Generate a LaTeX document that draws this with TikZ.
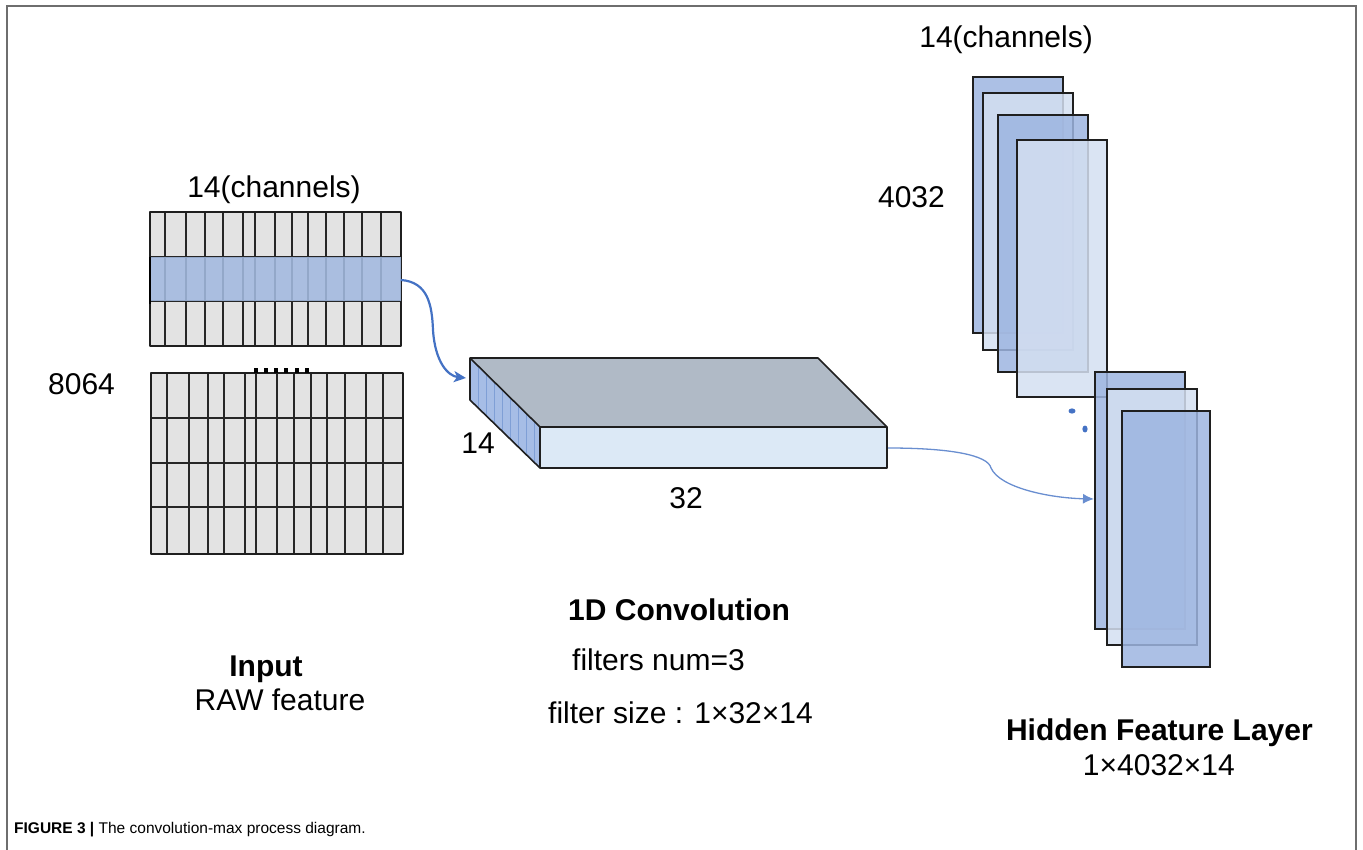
\documentclass[tikz,border=0pt]{standalone}
\usepackage{fontspec}
\setmainfont{Liberation Sans}
\usetikzlibrary{arrows.meta}
\definecolor{gridfill}{HTML}{E3E3E3}
\definecolor{band}{HTML}{A3BAE0}
\definecolor{arrowblue}{HTML}{4472C4}
\definecolor{topgray}{HTML}{B0BAC6}
\definecolor{frontblue}{HTML}{DCE9F6}
\definecolor{sideblue}{HTML}{A6BDE6}
\definecolor{stripeblue}{HTML}{7F9FD6}
\definecolor{midblue}{HTML}{9DB5E0}
\definecolor{lightblue}{HTML}{D4DFF1}
\definecolor{framegray}{HTML}{6E6E6E}
\begin{document}
\begin{tikzpicture}[x=1pt,y=-1pt,
  lbl/.style={font=\fontsize{30}{36}\selectfont, inner sep=0pt},
  boldlbl/.style={font=\fontsize{30}{36}\selectfont\bfseries, inner sep=0pt},
  gline/.style={draw=black!85, line width=1.6pt},
  edge/.style={draw=black!88, line width=1.6pt, line join=round},
  midsheet/.style={fill=midblue, fill opacity=0.85, draw=black!88, line width=1.6pt},
  lightsheet/.style={fill=lightblue, fill opacity=0.85, draw=black!88, line width=1.6pt},
  conn/.style={draw=arrowblue, line width=2.2pt, -{Stealth[length=12pt,width=11pt,inset=3pt]}},
  thinconn/.style={draw=arrowblue!80, line width=1.3pt, -{Latex[length=11pt,width=10pt]}}
]
\useasboundingbox (0,0) rectangle (1363,850);
% frame
\draw[framegray, line width=1.5pt] (7,850) -- (7,6) -- (1356,6) -- (1356,850);

% ---------- input grid (top block) ----------
\fill[gridfill] (150,212) rectangle (401,346);
\foreach \x in {165,186,205,223,243,255,275,292,308,326,344,362,381}
  \draw[gline] (\x,212) -- (\x,346);
\draw[gline] (150,257) -- (401,257);
\draw[gline] (150,301) -- (401,301);
\draw[edge] (150,212) rectangle (401,346);
\fill[band, fill opacity=0.88] (150,257) rectangle (401,301);
\draw[black, line width=2pt] (150,257) -- (150,304);
\coordinate (bandR) at (401,280);

% ---------- input grid (bottom block) ----------
\fill[gridfill] (151,373) rectangle (403,554);
\foreach \x in {167,189,208,224,245,256,277,294,311,327,345,366,383}
  \draw[gline] (\x,373) -- (\x,554);
\foreach \y in {418,463,507}
  \draw[gline] (151,\y) -- (403,\y);
\draw[edge] (151,373) rectangle (403,554);
\foreach \x in {256,266,276,286,297,307}
  \fill[black] (\x-1.8,368) rectangle (\x+1.8,373);

% ---------- convolution block ----------
\fill[topgray] (470,358) -- (818,358) -- (887,427) -- (540,427) -- cycle;
\fill[frontblue] (540,427) rectangle (887,468);
\fill[sideblue] (470,358) -- (540,427) -- (540,468) -- (470,400) -- cycle;
\foreach \x in {478,486,494,502,510,518,526,534}
  \draw[stripeblue, line width=0.8pt] (\x,{358+(\x-470)*69/70}) -- (\x,{400+(\x-470)*68/70});
\draw[edge] (470,358) -- (818,358) -- (887,427) -- (887,468) -- (540,468) -- (470,400) -- cycle;
\draw[edge] (470,358) -- (540,427) -- (887,427);
\draw[edge] (540,427) -- (540,468);
\coordinate (convL) at (466,378);
\coordinate (convR) at (888,448);

% ---------- hidden feature sheets ----------
\draw[midsheet]   (973,77)  rectangle (1063,333);
\draw[lightsheet] (983,93)  rectangle (1073,350);
\draw[midsheet]   (998,115) rectangle (1088,372);
\draw[lightsheet] (1017,140) rectangle (1107,397);
\draw[midsheet]   (1095,372) rectangle (1185,629);
\draw[lightsheet] (1107,389) rectangle (1197,645);
\draw[midsheet]   (1122,411) rectangle (1210,667);
\fill[arrowblue] (1072,411) ellipse [x radius=3.5pt, y radius=2.6pt];
\fill[arrowblue] (1085,429) ellipse [x radius=2.6pt, y radius=3.5pt];
\coordinate (sheetL) at (1094,499);

% ---------- connectors ----------
\draw[conn] (bandR) .. controls (428,282) and (432,305) .. (433,330)
  .. controls (435,362) and (448,376) .. (convL);
\draw[thinconn] (convR) .. controls (950,448) and (988,455) .. (991,468)
  .. controls (1000,488) and (1050,498) .. (sheetL);

% ---------- labels ----------
\node[lbl, anchor=base] (chL) at (274,198) {14(channels)};
\node[lbl, anchor=base west] (n8064) at (48,394) {8064};
\node[lbl, anchor=base] (n14) at (478,453) {14};
\node[lbl, anchor=base] (n32) at (686,508) {32};
\node[lbl, anchor=base east] (chR) at (1093,48) {14(channels)};
\node[lbl, anchor=base east] (n4032) at (945,208) {4032};
\node[boldlbl, anchor=base] (inp) at (266,676) {Input};
\node[lbl, anchor=base] (raw) at (280,710) {RAW feature};
\node[boldlbl, anchor=base west] (conv) at (568,620) {1D Convolution};
\node[lbl, anchor=base west] (fnum) at (572,670) {filters num=3};
\node[lbl, anchor=base west] (fsize) at (548,723) {filter size : 1×32×14};
\node[boldlbl, anchor=base east] (hid) at (1313,740) {Hidden Feature Layer};
\node[lbl, anchor=base east] (dims) at (1235,775) {1×4032×14};
\node[anchor=base west, inner sep=0pt, font=\fontsize{15.5}{18}\selectfont] (cap) at (14,833)
  {\textbf{FIGURE 3 |} The convolution-max process diagram.};
\end{tikzpicture}
\end{document}
